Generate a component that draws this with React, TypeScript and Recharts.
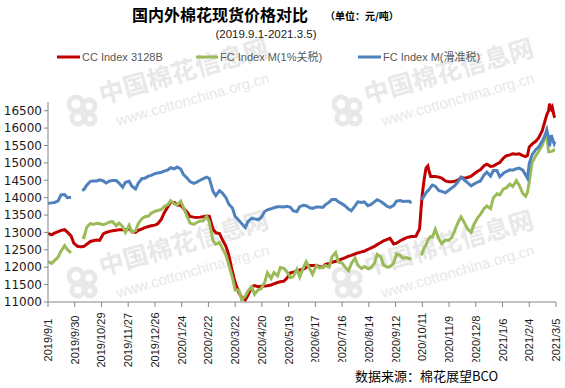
import React from "react";
import { LineChart, Line, XAxis, YAxis } from "recharts";

const dates = [
  "2019/9/1","2019/9/5","2019/9/8","2019/9/12","2019/9/15","2019/9/19","2019/9/22","2019/9/26","2019/9/29","2019/10/3",
  "2019/10/6","2019/10/8","2019/10/10","2019/10/13","2019/10/17","2019/10/20","2019/10/24","2019/10/27","2019/10/31","2019/11/3",
  "2019/11/7","2019/11/10","2019/11/14","2019/11/17","2019/11/21","2019/11/24","2019/11/28","2019/12/1","2019/12/5","2019/12/8",
  "2019/12/12","2019/12/15","2019/12/19","2019/12/22","2019/12/26","2019/12/29","2020/1/2","2020/1/5","2020/1/9","2020/1/12",
  "2020/1/16","2020/1/19","2020/1/23","2020/1/26","2020/1/30","2020/2/2","2020/2/6","2020/2/9","2020/2/13","2020/2/16",
  "2020/2/20","2020/2/23","2020/2/27","2020/3/1","2020/3/5","2020/3/8","2020/3/12","2020/3/15","2020/3/19","2020/3/22",
  "2020/3/26","2020/3/29","2020/4/2","2020/4/5","2020/4/9","2020/4/12","2020/4/16","2020/4/19","2020/4/23","2020/4/26",
  "2020/4/30","2020/5/3","2020/5/7","2020/5/10","2020/5/14","2020/5/17","2020/5/21","2020/5/24","2020/5/28","2020/5/31",
  "2020/6/4","2020/6/7","2020/6/11","2020/6/14","2020/6/18","2020/6/21","2020/6/25","2020/6/28","2020/7/2","2020/7/5",
  "2020/7/9","2020/7/12","2020/7/16","2020/7/19","2020/7/23","2020/7/26","2020/7/30","2020/8/2","2020/8/6","2020/8/9",
  "2020/8/13","2020/8/16","2020/8/20","2020/8/23","2020/8/27","2020/8/30","2020/9/3","2020/9/6","2020/9/10","2020/9/13",
  "2020/9/17","2020/9/20","2020/9/24","2020/9/27","2020/9/29","2020/10/1","2020/10/4","2020/10/8","2020/10/10","2020/10/11",
  "2020/10/13","2020/10/15","2020/10/17","2020/10/18","2020/10/20","2020/10/22","2020/10/25","2020/10/29","2020/11/1","2020/11/5",
  "2020/11/8","2020/11/12","2020/11/15","2020/11/19","2020/11/22","2020/11/26","2020/11/29","2020/12/3","2020/12/6","2020/12/10",
  "2020/12/13","2020/12/17","2020/12/20","2020/12/24","2020/12/27","2020/12/31","2021/1/3","2021/1/7","2021/1/10","2021/1/14",
  "2021/1/17","2021/1/21","2021/1/24","2021/1/28","2021/1/31","2021/2/2","2021/2/4","2021/2/7","2021/2/11","2021/2/14",
  "2021/2/18","2021/2/21","2021/2/23","2021/2/25","2021/2/26","2021/2/28","2021/3/1","2021/3/3","2021/3/4",
];

const ccIndex3128B = [
  12970,12930,12980,13020,13060,13080,13010,12900,12690,12600,
  12590,12590,12600,12660,12740,12760,12780,12770,12960,13000,
  13030,13050,13060,13080,13080,13070,13110,13020,13000,13060,
  13100,13140,13170,13190,13210,13250,13380,13560,13740,13860,
  13860,13790,13780,13690,13580,13460,13440,13430,13440,13450,
  13470,13460,13090,12990,12970,12800,12600,12360,11870,11560,
  11270,11140,11060,11200,11440,11470,11440,11450,11460,11470,
  11490,11520,11560,11580,11600,11680,11840,11860,11890,11920,
  11940,11990,12050,12050,12050,12020,11990,12080,12110,12140,
  12170,12200,12240,12270,12320,12340,12380,12410,12440,12460,
  12510,12550,12600,12650,12710,12760,12800,12830,12670,12690,
  12760,12800,12850,12870,12880,12880,12890,13100,13800,14100,
  14520,14850,14910,14800,14610,14610,14610,14590,14560,14480,
  14460,14460,14470,14510,14580,14560,14580,14620,14680,14760,
  14800,14920,14960,14900,14910,14970,15010,15140,15200,15230,
  15260,15250,15260,15210,15180,15210,15460,15540,15620,15710,
  15920,16200,16380,16500,16700,16550,16600,16340,16300,
];

const fcIndexM1pct = [
  12160,12110,12190,12290,12460,12620,12510,12410,null,null,
  null,12860,12850,13150,13260,13230,13260,13250,13220,13250,
  13300,13310,13190,13270,13170,13000,13210,13010,13050,13260,
  13400,13450,13470,13550,13610,13630,13660,13740,13800,13910,
  13820,13790,13900,13710,13460,13270,13230,13280,13330,13330,
  13460,13300,12760,12660,12710,12550,12350,12080,11700,11340,
  11350,11070,11170,11320,11440,11220,11350,11380,11560,11840,
  11680,11850,11750,11990,11970,11870,11700,11730,11940,11720,
  11990,12160,11950,11800,12050,11980,11990,12050,12000,12300,
  12420,12150,12120,12010,11900,12100,12260,12060,11960,12020,
  11960,11980,12110,12370,12300,12060,12000,12020,12120,12380,
  12340,12260,12280,12240,12250,null,null,null,12340,12420,
  12550,12640,12780,12820,12880,12860,13090,12810,12680,12780,
  12770,12850,13050,13300,13450,13260,13100,13000,13230,13420,
  13520,13690,13760,13680,13990,14110,14080,14250,14280,14390,
  14320,14490,14360,14120,14040,14150,14460,15000,15200,15320,
  15500,15720,15780,15320,15320,15330,15340,15370,15370,
];

const fcIndexMSliding = [
  13840,13850,13860,13910,14080,14090,14000,14010,null,null,
  null,14210,14230,14360,14470,14480,14480,14510,14480,14420,
  14480,14490,14490,14420,14300,14440,14470,14330,14250,14420,
  14550,14560,14620,14640,14690,14710,14730,14760,14800,14860,
  14830,14880,14820,14660,14560,14460,14410,14440,14500,14540,
  14590,14550,14180,14060,14200,14140,14000,13820,13700,13460,
  13350,13260,13140,13320,13410,13390,13370,13420,13600,13650,
  13680,13710,13740,13740,13730,13750,13720,13620,13600,13740,
  13780,13770,13710,13690,13730,13730,13720,13800,13870,13950,
  13950,13880,13820,13770,13670,13620,13760,13880,13860,13880,
  13770,13800,13880,13940,13890,13830,13750,13720,13780,13900,
  13920,13890,13900,13900,13840,null,null,null,13940,13970,
  14050,14140,14200,14220,14300,14360,14330,14200,14180,14140,
  14200,14280,14340,14470,14590,14500,14430,14340,14390,14450,
  14480,14650,14730,14620,14780,14780,14600,14700,14750,14800,
  14790,14830,14850,14790,14650,14560,14980,15230,15380,15450,
  15620,15790,15950,15700,15480,15800,15700,15550,15620,
];

const xTickLabels = [
  "2019/9/1","2019/9/30","2019/10/29","2019/11/27","2019/12/26","2020/1/24","2020/2/22",
  "2020/3/22","2020/4/20","2020/5/19","2020/6/17","2020/7/16","2020/8/14","2020/9/12",
  "2020/10/11","2020/11/9","2020/12/8","2021/1/6","2021/2/4","2021/3/5",
];

const yTicks = [11000,11500,12000,12500,13000,13500,14000,14500,15000,15500,16000,16500];

const seriesNames = ["CC Index 3128B", "FC Index M(1%关税)", "FC Index M(滑准税)"];
const seriesColors = ["#C00000", "#9BBB59", "#4F81BD"];

const START = Date.UTC(2019, 8, 1);
const dayOf = (s: string) => {
  const [y, m, d] = s.split("/").map(Number);
  return Math.round((Date.UTC(y, m - 1, d) - START) / 86400000);
};

const data = dates.map((s, i) => ({
  d: dayOf(s),
  cc: ccIndex3128B[i],
  fc1: fcIndexM1pct[i],
  fcs: fcIndexMSliding[i],
}));

const xTicks = xTickLabels.map(dayOf);
const labelOf = new Map<number, string>(xTicks.map((t, i) => [t, xTickLabels[i]]));
const xDomain = [dayOf(xTickLabels[0]), dayOf(xTickLabels[xTickLabels.length - 1])];

const XTick = (props: any) => {
  const { x, payload } = props;
  const cy = 340;
  return (
    <text
      x={x}
      y={cy}
      dy={4}
      textAnchor="middle"
      transform={`rotate(-90, ${x}, ${cy})`}
      fontSize={11}
      fontFamily="Liberation Sans, Arial, sans-serif"
      fill="#1a1a1a"
    >
      {labelOf.get(payload.value)}
    </text>
  );
};

const WM_COLOR = "#e8e8e8";
const Watermark = ({ lx, ly }: { lx: number; ly: number }) => (
  <g>
    <g transform={`translate(${lx}, ${ly})`} fill="none" stroke={WM_COLOR} strokeWidth={5}>
      <circle cx={-6} cy={-6} r={7} />
      <circle cx={7} cy={-4} r={6} />
      <circle cx={-4} cy={8} r={6} />
      <circle cx={8} cy={9} r={5} />
    </g>
    <text
      x={lx + 20}
      y={ly - 6}
      transform={`rotate(-16, ${lx + 20}, ${ly - 6})`}
      fontSize={25}
      fontWeight="bold"
      fontFamily="Noto Sans CJK SC"
      fill={WM_COLOR}
    >
      中国棉花信息网
    </text>
    <text
      x={lx + 36}
      y={ly + 16}
      transform={`rotate(-16, ${lx + 36}, ${ly + 16})`}
      fontSize={15}
      fontFamily="Liberation Sans, Arial, sans-serif"
      fill={WM_COLOR}
    >
      www.cottonchina.org.cn
    </text>
  </g>
);

export default function App() {
  const legendItems = [
    { x1: 57, x2: 80, tx: 82 },
    { x1: 196, x2: 218, tx: 220 },
    { x1: 358, x2: 381, tx: 383 },
  ];
  return (
    <div style={{ position: "relative", width: 565, height: 388, background: "#fff", overflow: "hidden" }}>
      <style>{"body{margin:0}"}</style>
      <svg width={565} height={388} style={{ position: "absolute", left: 0, top: 0 }}>
        <Watermark lx={82} ly={110} />
        <Watermark lx={347} ly={110} />
        <Watermark lx={82} ly={282} />
        <Watermark lx={347} ly={282} />
      </svg>
      <div style={{ position: "absolute", left: 0, top: 0 }}>
        <LineChart
          width={565}
          height={388}
          data={data}
          margin={{ top: 102, right: 9, bottom: 56, left: 8 }}
        >
          <XAxis
            type="number"
            dataKey="d"
            domain={xDomain}
            ticks={xTicks}
            interval={0}
            height={30}
            tick={<XTick />}
            tickSize={5}
            axisLine={{ stroke: "#868686" }}
            tickLine={{ stroke: "#868686" }}
            allowDataOverflow
          />
          <YAxis
            type="number"
            domain={[11000, 16750]}
            ticks={yTicks}
            interval={0}
            width={40}
            tickSize={4}
            tickMargin={2}
            tick={{ fontSize: 12, fill: "#1a1a1a", fontFamily: "DejaVu Sans, sans-serif" }}
            axisLine={{ stroke: "#868686" }}
            tickLine={{ stroke: "#868686" }}
            allowDataOverflow
          />
          <Line
            type="linear"
            dataKey="cc"
            name={seriesNames[0]}
            stroke={seriesColors[0]}
            strokeWidth={3}
            dot={false}
            isAnimationActive={false}
          />
          <Line
            type="linear"
            dataKey="fc1"
            name={seriesNames[1]}
            stroke={seriesColors[1]}
            strokeWidth={3}
            dot={false}
            isAnimationActive={false}
          />
          <Line
            type="linear"
            dataKey="fcs"
            name={seriesNames[2]}
            stroke={seriesColors[2]}
            strokeWidth={3}
            dot={false}
            isAnimationActive={false}
          />
        </LineChart>
      </div>
      <svg width={565} height={388} style={{ position: "absolute", left: 0, top: 0, pointerEvents: "none" }}>
        <text x={220} y={21} textAnchor="middle" fontSize={16} fontWeight="bold" fontFamily="Noto Sans CJK SC" fill="#000">
          国内外棉花现货价格对比
        </text>
        <text x={325} y={20} fontSize={10} fontWeight="bold" fontFamily="Noto Sans CJK SC" fill="#000">
          （单位：元/吨）
        </text>
        <text x={266} y={38} textAnchor="middle" fontSize={11.5} fontFamily="Liberation Sans, Arial, sans-serif" fill="#1a1a1a">
          (2019.9.1-2021.3.5)
        </text>
        {legendItems.map((it, i) => (
          <g key={i}>
            <line x1={it.x1} x2={it.x2} y1={57} y2={57} stroke={seriesColors[i]} strokeWidth={3} />
            <text x={it.tx} y={61} fontSize={11} fontFamily="Liberation Sans, Noto Sans CJK SC, sans-serif" fill="#595959">
              {seriesNames[i]}
            </text>
          </g>
        ))}
        <rect x={303} y={362} width={205} height={26} fill="#fff" />
        <text x={355} y={381} fontSize={13} fontFamily="Noto Sans CJK SC" fill="#000">
          数据来源：棉花展望BCO
        </text>
      </svg>
    </div>
  );
}
